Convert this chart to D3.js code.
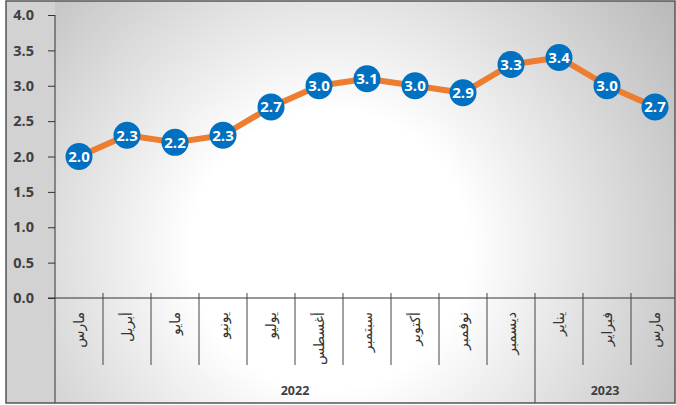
<!DOCTYPE html>
<html>
<head>
<meta charset="utf-8">
<script src="https://cdn.jsdelivr.net/npm/d3@7"></script>
<style>
  body { margin: 0; background: #fff; }
  svg text { font-family: "Open Sans", "Noto Sans", "DejaVu Sans", sans-serif; }
</style>
</head>
<body>
<div id="chart"></div>
<script>
const months = ['مارس', 'أبريل', 'مايو', 'يونيو', 'يوليو', 'أغسطس', 'سبتمبر', 'أكتوبر', 'نوفمبر', 'ديسمبر', 'يناير', 'فبراير', 'مارس']
const values = [2.0, 2.3, 2.2, 2.3, 2.7, 3.0, 3.1, 3.0, 2.9, 3.3, 3.4, 3.0, 2.7]
const years = ['2022', '2023']
const yearOf = [0, 0, 0, 0, 0, 0, 0, 0, 0, 0, 1, 1, 1]
const yTicks = [0, 0.5, 1, 1.5, 2, 2.5, 3, 3.5, 4]

const W = 676
const H = 405
const margin = { top: 15, left: 55 }
const frame = { x: 6, y: 1, right: 675, bottom: 403 }

const svg = d3.select('#chart').append('svg').attr('width', W).attr('height', H)

const defs = svg.append('defs')
const grad = defs.append('radialGradient')
  .attr('id', 'bg')
  .attr('gradientUnits', 'userSpaceOnUse')
  .attr('cx', 330).attr('cy', 250).attr('r', 420)
grad.append('stop').attr('offset', '0%').attr('stop-color', '#ffffff')
grad.append('stop').attr('offset', '33%').attr('stop-color', '#ffffff')
grad.append('stop').attr('offset', '100%').attr('stop-color', '#bababa')

// background
svg.append('rect')
  .attr('x', frame.x).attr('y', frame.y)
  .attr('width', frame.right - frame.x).attr('height', frame.bottom - frame.y)
  .attr('fill', 'url(#bg)')
svg.append('rect')
  .attr('x', frame.x).attr('y', frame.y)
  .attr('width', margin.left - frame.x).attr('height', frame.bottom - frame.y)
  .attr('fill', '#d2d2d2')

const x = d3.scaleBand()
  .domain(d3.range(months.length))
  .range([margin.left, margin.left + 48 * months.length])
const y = d3.scaleLinear().domain([0, 4]).range([298, margin.top])

// y axis
const yAxis = svg.append('g')
  .attr('transform', `translate(${margin.left},0)`)
  .call(d3.axisLeft(y).tickValues(yTicks).tickFormat(d3.format('.1f')).tickSize(7).tickPadding(14))
yAxis.select('.domain').remove()
yAxis.selectAll('line').attr('stroke', '#333')
yAxis.selectAll('text')
  .attr('fill', '#404040')
  .attr('font-size', 14.5)
  .attr('font-weight', 'bold')
  .attr('x', -21)

svg.append('line')
  .attr('x1', margin.left).attr('x2', margin.left)
  .attr('y1', y(4)).attr('y2', frame.bottom)
  .attr('stroke', '#333')

// x axis line
svg.append('line')
  .attr('x1', margin.left - 7).attr('x2', frame.right)
  .attr('y1', y(0)).attr('y2', y(0))
  .attr('stroke', '#333')

// category dividers
const dividers = d3.range(1, months.length)
svg.selectAll('.div')
  .data(dividers)
  .enter()
  .append('line')
  .attr('class', 'div')
  .attr('x1', (d) => x(d)).attr('x2', (d) => x(d))
  .attr('y1', y(0) - 5)
  .attr('y2', (d) => (yearOf[d] !== yearOf[d - 1] ? frame.bottom : 365))
  .attr('stroke', '#444')

// month labels
svg.selectAll('.month')
  .data(months)
  .enter()
  .append('text')
  .attr('class', 'month')
  .attr('transform', (d, i) => `translate(${x(i) + x.bandwidth() / 2}, 312)rotate(-90)`)
  .attr('text-anchor', 'end')
  .attr('dy', '0.35em')
  .attr('font-size', 14)
  .attr('fill', '#333')
  .text((d) => d)

// year labels
svg.selectAll('.year')
  .data(years)
  .enter()
  .append('text')
  .attr('class', 'year')
  .attr('x', (d, yi) => {
    const idx = d3.range(months.length).filter((i) => yearOf[i] === yi)
    const x0 = x(idx[0])
    const x1 = Math.min(x(idx[idx.length - 1]) + x.bandwidth(), frame.right)
    return (x0 + x1) / 2
  })
  .attr('y', 395)
  .attr('text-anchor', 'middle')
  .attr('font-size', 12.5)
  .attr('font-weight', 'bold')
  .attr('fill', '#404040')
  .text((d) => d)

// line
const line = d3.line()
  .x((d, i) => x(i) + x.bandwidth() / 2)
  .y((d) => y(d))
svg.append('path')
  .datum(values)
  .attr('d', line)
  .attr('fill', 'none')
  .attr('stroke', '#ED7D31')
  .attr('stroke-width', 6)
  .attr('stroke-linejoin', 'round')

// markers
const pts = svg.selectAll('.pt')
  .data(values)
  .enter()
  .append('g')
  .attr('class', 'pt')
  .attr('transform', (d, i) => `translate(${x(i) + x.bandwidth() / 2}, ${y(d)})`)
pts.append('circle').attr('r', 13.5).attr('fill', '#0070C0')
pts.append('text')
  .attr('text-anchor', 'middle')
  .attr('dy', '0.36em')
  .attr('font-size', 15)
  .attr('font-weight', 'bold')
  .attr('fill', '#fff')
  .text((d) => d.toFixed(1))

// frame
svg.append('rect')
  .attr('x', frame.x).attr('y', frame.y)
  .attr('width', frame.right - frame.x).attr('height', frame.bottom - frame.y)
  .attr('fill', 'none')
  .attr('stroke', '#555')
  .attr('stroke-width', 1.5)
</script>
</body>
</html>
